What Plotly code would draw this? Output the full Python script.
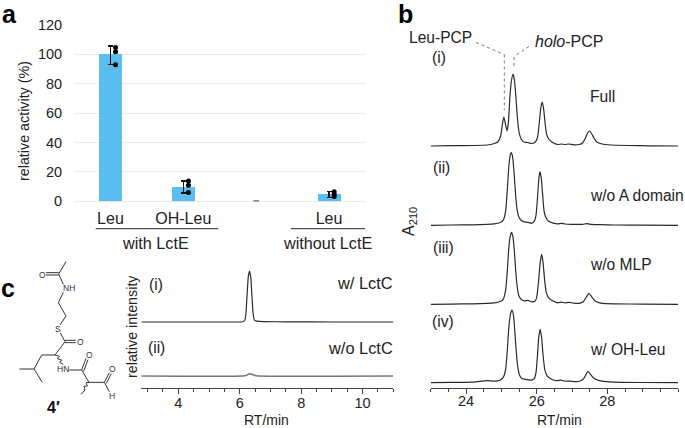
import plotly.graph_objects as go

W = 685
H = 428
FONT = "Liberation Sans"
INK = "#222222"

# panel a
a_pos = [0, 1, 2, 3]
a_vals = [100, 9.8, 0, 4.7]
a_err_up = [5.7, 4.0, 0, 2.0]
a_err_down = [7.0, 4.1, 0, 2.0]
a_labels = ["Leu", "OH-Leu", "Leu"]
a_label_pos = [0, 1, 3]
a_dot_pos = [0, 0, 0, 1, 1, 1, 3, 3, 3]
a_dot_vals = [104.7, 101.8, 93.0, 13.8, 11.0, 6.0, 6.5, 4.8, 3.2]
a_dash_pos = [2]
a_dash_vals = [0.3]

# panel b, height above each baseline
b_x_i = [23, 23.6, 24.2, 24.6, 24.8, 24.9, 24.98, 25.03, 25.07, 25.11, 25.16, 25.2, 25.24, 25.28, 25.33, 25.37, 25.41,
         25.45, 25.5, 25.56, 25.64, 25.75, 25.85, 25.95, 26.02, 26.07, 26.12, 26.16, 26.2, 26.24, 26.28, 26.34, 26.45,
         26.6, 26.7, 26.8, 26.9, 27.05, 27.2, 27.3, 27.38, 27.44, 27.5, 27.56, 27.62, 27.7, 27.85, 28.1, 28.6, 29.2, 30]
b_y_i = [0, 0.3, 0.5, 1, 2.5, 4, 10, 22, 29, 23, 15, 24, 48, 64, 72, 66, 50,
         30, 14, 7, 4, 3.5, 2.5, 3.5, 8, 22, 39, 44, 36, 22, 12, 7, 3.5,
         1.5, 2, 1.5, 2, 1.2, 1.5, 3, 8, 13, 15, 12, 8, 4, 2, 1, 0.5, 0.2, 0]
b_x_ii = [23, 23.6, 24.2, 24.6, 24.8, 24.95, 25.05, 25.12, 25.17, 25.21, 25.25, 25.28, 25.32, 25.36, 25.4, 25.44, 25.5,
          25.56, 25.64, 25.75, 25.85, 25.93, 25.98, 26.02, 26.06, 26.09, 26.13, 26.17, 26.21, 26.27, 26.34, 26.45, 26.6,
          26.7, 26.8, 27, 27.3, 27.42, 27.55, 27.8, 28.2, 29, 30]
b_y_ii = [0, 0.3, 0.5, 1, 1.5, 2.5, 5, 14, 36, 58, 70, 72.6, 68, 52, 32, 17, 8,
          5, 3.5, 3, 2, 4, 10, 26, 46, 53.6, 47, 30, 14, 7, 4, 2.5, 1.5,
          2, 1.3, 1, 1, 1.6, 1, 0.6, 0.3, 0.2, 0]
b_x_iii = [23, 23.6, 24.2, 24.6, 24.8, 24.95, 25.05, 25.12, 25.17, 25.21, 25.25, 25.29, 25.33, 25.37, 25.41, 25.45, 25.5,
           25.56, 25.64, 25.75, 25.85, 25.95, 26.0, 26.05, 26.1, 26.14, 26.18, 26.22, 26.27, 26.34, 26.45, 26.6, 26.7,
           26.8, 26.9, 27.05, 27.2, 27.32, 27.4, 27.48, 27.55, 27.62, 27.7, 27.85, 28.2, 29, 30]
b_y_iii = [0, 0.2, 0.5, 1, 1.5, 2.5, 5, 14, 34, 56, 68, 72, 67, 52, 32, 17, 8,
           5, 3.5, 4, 2.5, 3, 7, 22, 42, 50, 42, 26, 12, 6.5, 3.5, 1.5, 2.2,
           1.5, 2, 1.2, 1, 2.5, 7, 11, 8, 4.5, 2.5, 1, 0.5, 0.2, 0]
b_x_iv = [23, 23.6, 24.2, 24.6, 24.8, 24.95, 25.05, 25.12, 25.17, 25.21, 25.26, 25.3, 25.34, 25.38, 25.42, 25.46, 25.51,
          25.57, 25.65, 25.75, 25.85, 25.93, 25.98, 26.02, 26.06, 26.1, 26.14, 26.18, 26.23, 26.3, 26.42, 26.55, 26.68,
          26.8, 26.95, 27.1, 27.25, 27.33, 27.39, 27.45, 27.52, 27.6, 27.7, 27.85, 28.2, 29, 30]
b_y_iv = [0, 0.3, 0.5, 2, 1.5, 2.5, 5, 13, 33, 55, 69, 72.7, 68, 52, 32, 17, 8,
          4.5, 3.5, 3, 2.5, 4, 10, 26, 46, 53.4, 45, 28, 13, 6.5, 3.5, 2, 2.5,
          1.5, 1.5, 1, 2, 4, 8, 11.4, 8.5, 5, 3, 1.5, 0.6, 0.2, 0]
b_offsets = [241.7, 162.4, 83.4, 5]

# panel c
c_x_i = [2.8, 5.9, 6.1, 6.16, 6.2, 6.24, 6.28, 6.32, 6.36, 6.4, 6.44, 6.48, 6.56, 6.8, 7.5, 9, 11]
c_y_i = [0, 0, 0.3, 1.5, 8, 28, 46, 51, 44, 24, 7, 1.8, 0.8, 0.4, 0.2, 0, 0]
c_x_ii = [2.8, 6.1, 6.2, 6.3, 6.4, 6.5, 6.6, 11]
c_y_ii = [0, 0, 0.5, 2, 1.8, 0.4, 0, 0]
c_offsets = [65.7, 11.7]

fig = go.Figure()


def dom(p0, p1, size):
    return [p0 / size, p1 / size]


def ydom(top, bottom):
    return [(H - bottom) / H, (H - top) / H]


fig.add_trace(go.Bar(x=a_pos, y=a_vals, width=0.315, marker=dict(color="#5BBEF0", line_width=0),
                     error_y=dict(type="data", symmetric=False, array=a_err_up, arrayminus=a_err_down,
                                  color="#111111", thickness=1.3, width=2.5),
                     xaxis="x", yaxis="y"))
fig.add_trace(go.Scatter(x=[p + 0.07 for p in a_dot_pos], y=a_dot_vals, mode="markers",
                         marker=dict(color="#000000", size=5), xaxis="x", yaxis="y"))
fig.add_trace(go.Scatter(x=a_dash_pos, y=a_dash_vals, mode="markers",
                         marker=dict(symbol="line-ew", color="#666666", size=4, line=dict(color="#666666", width=1.2)),
                         xaxis="x", yaxis="y"))

b_xs = [b_x_i, b_x_ii, b_x_iii, b_x_iv]
b_ys = [b_y_i, b_y_ii, b_y_iii, b_y_iv]
for xs, ys, off in zip(b_xs, b_ys, b_offsets):
    fig.add_trace(go.Scatter(x=xs, y=[v + off for v in ys], mode="lines",
                             line=dict(color="#2a2a2a", width=1.2, shape="spline", smoothing=0.5),
                             xaxis="x2", yaxis="y2"))

fig.add_trace(go.Scatter(x=c_x_i, y=[v + c_offsets[0] for v in c_y_i], mode="lines",
                         line=dict(color="#2a2a2a", width=1.2, shape="spline", smoothing=0.5),
                         xaxis="x3", yaxis="y3"))
fig.add_trace(go.Scatter(x=c_x_ii, y=[v + c_offsets[1] for v in c_y_ii], mode="lines",
                         line=dict(color="#777777", width=1.6, shape="spline", smoothing=0.5),
                         xaxis="x3", yaxis="y3"))

annotations = []


def txt(x, y, text, size=15.6, anchor="center", angle=0, color=INK):
    annotations.append(dict(xref="paper", yref="paper", x=x / W, y=1 - y / H, text=text, showarrow=False,
                            xanchor=anchor, yanchor="middle", textangle=angle, borderpad=0,
                            font=dict(family=FONT, size=size, color=color)))


# panel letters
txt(1, 14, "<b>a</b>", 25, "left", color="#000000")
txt(397, 14, "<b>b</b>", 25, "left", color="#000000")
txt(0, 288, "<b>c</b>", 25, "left", color="#000000")

txt(24, 121, "relative activity (%)", 14.3, angle=-90)
txt(155, 243, "with LctE", 16.2)
txt(327, 243, "without LctE", 16.2)

txt(440.7, 38, "Leu-PCP")
txt(568.5, 42, "<i>holo</i>-PCP", 16)
txt(439, 58, "(i)")
txt(589, 96, "Full", anchor="left")
txt(441, 167, "(ii)")
txt(589, 196, "w/o A domain", anchor="left")
txt(443, 247, "(iii)")
txt(589, 264, "w/o MLP", anchor="left")
txt(443, 321, "(iv)")
txt(589, 349, "w/ OH-Leu", anchor="left")
txt(409, 222, "A<sub>210</sub>", 16, angle=-90)
txt(559, 420, "RT/min", 14)

txt(132, 327, "relative intensity", 14.3, angle=-90)
txt(156, 284, "(i)")
txt(394, 283, "w/ LctC", 16.4, "right")
txt(156, 347, "(ii)")
txt(394, 348, "w/o LctC", 16.4, "right")
txt(266, 420, "RT/min", 14)

# structure labels, in zoom crop units
atoms = [(96, 60, "O"), (176, 100, "NH"), (143, 222, "S"), (212, 262, "O"), (158, 343, "HN"),
         (237, 300, "O"), (306, 342, "O"), (306, 424, "H")]
for ax, ay, label in atoms:
    txt(10 + ax / 3, 255 + ay / 3, label, 8.5, color="#333333")
txt(53, 407, "<b>4′</b>", 16, color="#111111")

shapes = []


def seg(x0, y0, x1, y1, color="#333333", width=1, dash="solid"):
    shapes.append(dict(type="line", xref="paper", yref="paper", x0=x0 / W, x1=x1 / W, y0=1 - y0 / H, y1=1 - y1 / H,
                       line=dict(color=color, width=width, dash=dash), layer="above"))


# underlines
seg(95.7, 228.7, 218.3, 228.7, "#222222", 1)
seg(291, 228.7, 365, 228.7, "#222222", 1)

# leader lines
LEAD = "#777777"
seg(476, 42.5, 504.3, 54.5, LEAD, 1, "dot")
seg(504.3, 54.5, 504.3, 110, LEAD, 1, "dot")
seg(529, 46.5, 514.5, 56, LEAD, 1, "dot")
seg(514, 57, 514, 69, LEAD, 1, "dot")

# bonds of the structure, in zoom crop units
bonds = [(168, 20, 146, 57), (146, 53, 108, 53), (146, 60, 108, 60), (146, 57, 160, 88), (160, 112, 145, 143),
         (145, 143, 168, 183), (168, 183, 150, 210), (151, 234, 165, 260), (165, 256, 197, 256), (165, 263, 197, 263),
         (165, 260, 135, 300), (135, 300, 95, 300), (95, 300, 72, 342), (72, 342, 28, 342), (72, 342, 97, 382),
         (178, 345, 215, 345), (215, 345, 228, 310), (221, 349, 234, 314), (215, 345, 237, 382), (237, 382, 283, 382),
         (283, 382, 298, 353), (289, 385, 304, 356), (283, 382, 298, 410),
         # wavy bonds
         (135, 300, 148, 304), (148, 304, 142, 311), (142, 311, 155, 315), (155, 315, 149, 322), (149, 322, 160, 328),
         (237, 382, 228, 383), (228, 383, 232, 393), (232, 393, 222, 394), (222, 394, 225, 405), (225, 405, 213, 418)]
for x0, y0, x1, y1 in bonds:
    seg(10 + x0 / 3, 255 + y0 / 3, 10 + x1 / 3, 255 + y1 / 3)

tick_font = dict(family=FONT, size=14.5, color=INK)
cat_font = dict(family=FONT, size=16, color=INK)

fig.update_layout(
    width=W, height=H, margin=dict(l=0, r=0, t=0, b=0, pad=0, autoexpand=False),
    paper_bgcolor="white", plot_bgcolor="white", showlegend=False, bargap=0,
    annotations=annotations, shapes=shapes,
    xaxis=dict(domain=dom(74, 365.5, W), range=[-0.5, 3.5], tickvals=a_label_pos, ticktext=a_labels, tickfont=cat_font,
               ticks="outside", ticklen=2, tickcolor="rgba(0,0,0,0)", showline=False, showgrid=False, zeroline=False),
    yaxis=dict(domain=ydom(25, 201.3), range=[0, 120], tickvals=[0, 20, 40, 60, 80, 100, 120], tickfont=tick_font,
               ticks="outside", ticklen=8, tickcolor="rgba(0,0,0,0)", showline=False, showgrid=True,
               gridcolor="#e9e9e9", gridwidth=1, zeroline=True, zerolinecolor="#e9e9e9", zerolinewidth=1),
    xaxis2=dict(domain=dom(430.7, 678, W), range=[23, 30], anchor="y2", tickvals=[24, 26, 28], tickfont=tick_font,
                ticks="outside", ticklen=5, tickcolor="#444444", showline=True, linecolor="#444444", linewidth=1,
                ticklabelstandoff=-5,
                minor=dict(dtick=0.5, tick0=23, ticks="outside", ticklen=3, tickcolor="#444444"),
                showgrid=False, zeroline=False),
    yaxis2=dict(domain=ydom(60, 387.7), range=[0, 327.7], anchor="x2", visible=False),
    xaxis3=dict(domain=dom(140.7, 393.3, W), range=[2.774, 11], anchor="y3", tickvals=[4, 6, 8, 10], tickfont=tick_font,
                ticks="outside", ticklen=5, tickcolor="#444444", showline=True, linecolor="#444444", linewidth=1,
                ticklabelstandoff=-3,
                minor=dict(dtick=0.5, tick0=3, ticks="outside", ticklen=3, tickcolor="#444444"),
                showgrid=False, zeroline=False),
    yaxis3=dict(domain=ydom(260, 387.7), range=[0, 127.7], anchor="x3", visible=False),
)

fig.write_html("out.html", config={"displayModeBar": False}, post_script="document.body.style.margin='0';")
